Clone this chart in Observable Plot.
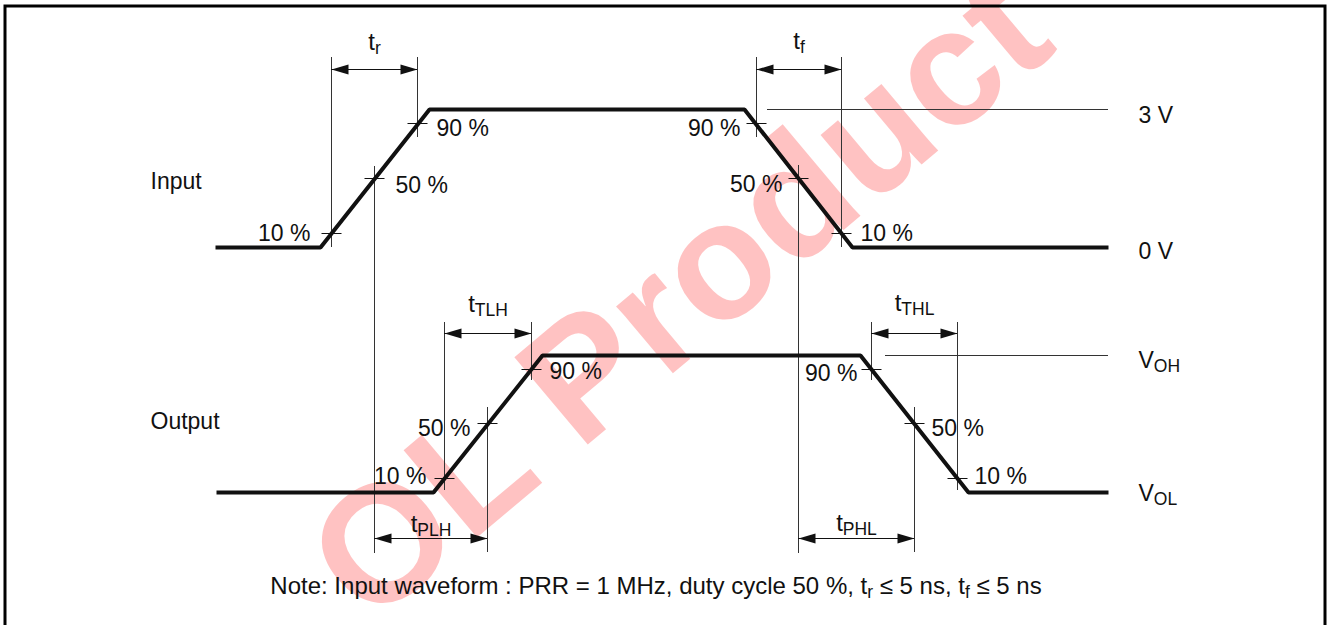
<!DOCTYPE html>
<html><head><meta charset="utf-8">
<script src="https://cdn.jsdelivr.net/npm/d3@7"></script>
<script src="https://cdn.jsdelivr.net/npm/@observablehq/plot@0.6"></script>
<style>html,body{margin:0;padding:0;background:#fff;} #chart{width:1328px;height:625px;overflow:hidden}</style>
</head><body><div id="chart"></div>
<script>
// ---- Waveforms (time units along x, level units along y) ----
const inputT  = [215, 320, 429, 744, 852, 1108];
const inputV  = [247, 247, 109, 109, 247, 247];
const outputT = [216, 433, 542, 860, 968, 1108];
const outputV = [492, 492, 355, 355, 492, 492];

// ---- 10/50/90 % crossing marks ----
const crossT = [331, 374, 417, 756, 798, 841, 444, 487, 531, 871, 914, 957];
const crossV = [233, 178, 123, 123, 178, 233, 478, 423, 369, 369, 423, 478];

// percent labels placed after the crossing (start-anchored)
const pctAfterText = ["50 %", "90 %", "10 %", "90 %", "50 %", "10 %"];
const pctAfterT    = [395, 436, 860, 549, 931, 974];
const pctAfterV    = [192, 135, 240, 378, 435, 483];
// percent labels placed before the crossing (end-anchored)
const pctBeforeText = ["10 %", "90 %", "50 %", "10 %", "50 %", "90 %"];
const pctBeforeT    = [310, 740, 782, 426, 470, 857];
const pctBeforeV    = [240, 135, 191, 483, 435, 380];

// ---- vertical construction lines ----
const guideT      = [331, 417, 374, 756, 841, 798, 444, 531, 487, 871, 957, 914];
const guideTop    = [57, 57, 166, 57, 57, 165, 322, 322, 407, 322, 322, 407];
const guideBottom = [247, 137, 553, 137, 247, 553, 490, 380, 552, 380, 490, 552];

// ---- horizontal reference lines (3 V, VOH) ----
const refStart = [767, 885];
const refEnd   = [1108, 1108];
const refV     = [109, 355];

// ---- dimension arrows ----
const dimName  = ["t_{r}", "t_{f}", "t_{TLH}", "t_{THL}", "t_{PLH}", "t_{PHL}"];
const dimStart = [331, 756, 444, 871, 374, 798];
const dimEnd   = [417, 841, 531, 957, 487, 914];
const dimV     = [69, 69, 333, 333, 538, 538];
const dimLabelV = [49, 48, 311, 310, 531, 530];

// ---- signal and level labels ----
const signalName = ["Input", "Output"];
const signalT    = [150, 150];
const signalV    = [188, 428];
const levelName  = ["3 V", "0 V", "V_{OH}", "V_{OL}"];
const levelT     = [1138, 1138, 1138, 1138];
const levelV     = [122, 258, 367, 500];

const noteText = "Note: Input waveform : PRR = 1 MHz, duty cycle 50 %, t_{r} \u2264 5 ns, t_{f} \u2264 5 ns";
const noteT = [655.5], noteV = [593];

const watermarkText = ["OL Product"];
const watermarkT = [680], watermarkV = [297];

// ---- build tables ----
const zipTV = (T, V, extra = {}) => T.map((t, i) => Object.fromEntries([["t", t], ["v", V[i]], ...Object.entries(extra).map(([k, a]) => [k, a[i]])]));
const inputWave  = zipTV(inputT, inputV);
const outputWave = zipTV(outputT, outputV);
const crosses    = zipTV(crossT, crossV);
const pctAfter   = zipTV(pctAfterT, pctAfterV, {label: pctAfterText});
const pctBefore  = zipTV(pctBeforeT, pctBeforeV, {label: pctBeforeText});
const guides     = zipTV(guideT, guideTop, {bottom: guideBottom});
const refs       = zipTV(refStart, refV, {end: refEnd});
const dims       = zipTV(dimStart, dimV, {end: dimEnd, name: dimName, lv: dimLabelV});
const signals    = zipTV(signalT, signalV, {name: signalName});
const levels     = zipTV(levelT, levelV, {name: levelName});
const notes      = zipTV(noteT, noteV, {name: [noteText]});
const wms        = zipTV(watermarkT, watermarkV, {name: watermarkText});

const arrowHead = {draw(ctx) { ctx.moveTo(0, 0); ctx.lineTo(-17, -5); ctx.lineTo(-17, 5); ctx.closePath(); }};
const hTick = {draw(ctx) { ctx.moveTo(-10, 0); ctx.lineTo(10, 0); }};

const FONT = "Liberation Sans, Arial, Helvetica, sans-serif";
const FS = 23;
const thin = "#333";

const svg = Plot.plot({
  width: 1328, height: 625, margin: 0,
  x: {domain: [0, 1328], range: [0, 1328], axis: null},
  y: {domain: [0, 625], range: [0, 625], axis: null},
  style: {fontFamily: FONT, background: "#fff", overflow: "hidden"},
  marks: [
    Plot.text(wms, {x: "t", y: "v", text: "name", rotate: -40, fontSize: 166, fontWeight: "bold", fill: "#ff0000", fillOpacity: 0.24, textAnchor: "middle", lineAnchor: "middle"}),
    Plot.frame({stroke: "#000", strokeWidth: 3, insetLeft: 4.5, insetTop: 5.5, insetRight: 3.5, insetBottom: -10}),
    Plot.ruleX(guides, {x: "t", y1: "v", y2: "bottom", stroke: thin, strokeWidth: 1}),
    Plot.ruleY(refs, {y: "v", x1: "t", x2: "end", stroke: thin, strokeWidth: 1}),
    Plot.ruleY(dims, {y: "v", x1: "t", x2: "end", stroke: "#111", strokeWidth: 1}),
    Plot.dot(dims, {x: "end", y: "v", symbol: arrowHead, fill: "#111", stroke: "none"}),
    Plot.dot(dims, {x: "t", y: "v", symbol: arrowHead, rotate: 180, fill: "#111", stroke: "none"}),
    Plot.line(inputWave, {x: "t", y: "v", stroke: "#111", strokeWidth: 4, strokeLinejoin: "miter", strokeLinecap: "butt"}),
    Plot.line(outputWave, {x: "t", y: "v", stroke: "#111", strokeWidth: 4, strokeLinejoin: "miter", strokeLinecap: "butt"}),
    Plot.dot(crosses, {x: "t", y: "v", symbol: hTick, fill: "none", stroke: "#111", strokeWidth: 1}),
    Plot.text(pctAfter, {x: "t", y: "v", text: "label", textAnchor: "start", lineAnchor: "bottom", fontSize: FS, fill: "#111"}),
    Plot.text(pctBefore, {x: "t", y: "v", text: "label", textAnchor: "end", lineAnchor: "bottom", fontSize: FS, fill: "#111"}),
    Plot.text(dims, {x: d => (d.t + d.end) / 2, y: "lv", text: "name", textAnchor: "middle", lineAnchor: "bottom", fontSize: 24, fill: "#111"}),
    Plot.text(signals, {x: "t", y: "v", text: "name", textAnchor: "start", lineAnchor: "bottom", fontSize: FS, fill: "#111"}),
    Plot.text(levels, {x: "t", y: "v", text: "name", textAnchor: "start", lineAnchor: "bottom", fontSize: FS, fill: "#111"}),
    Plot.text(notes, {x: "t", y: "v", text: "name", textAnchor: "middle", lineAnchor: "bottom", fontSize: 24, fill: "#111"})
  ]
});

// subscripts: turn "_{...}" into lowered, smaller tspans
d3.select(svg).selectAll("text").each(function () {
  const s = this.textContent;
  if (!s || !s.includes("_{")) return;
  const el = d3.select(this);
  el.text(null);
  let down = false;
  for (const p of s.split(/(_\{[^}]*\})/)) {
    if (!p) continue;
    const m = p.match(/^_\{([^}]*)\}$/);
    if (m) { el.append("tspan").attr("dy", 4.5).attr("font-size", 17.5).text(m[1]); down = true; }
    else { const t = el.append("tspan").text(p); if (down) { t.attr("dy", -4.5); down = false; } }
  }
});

document.getElementById("chart").appendChild(svg);
</script></body></html>
